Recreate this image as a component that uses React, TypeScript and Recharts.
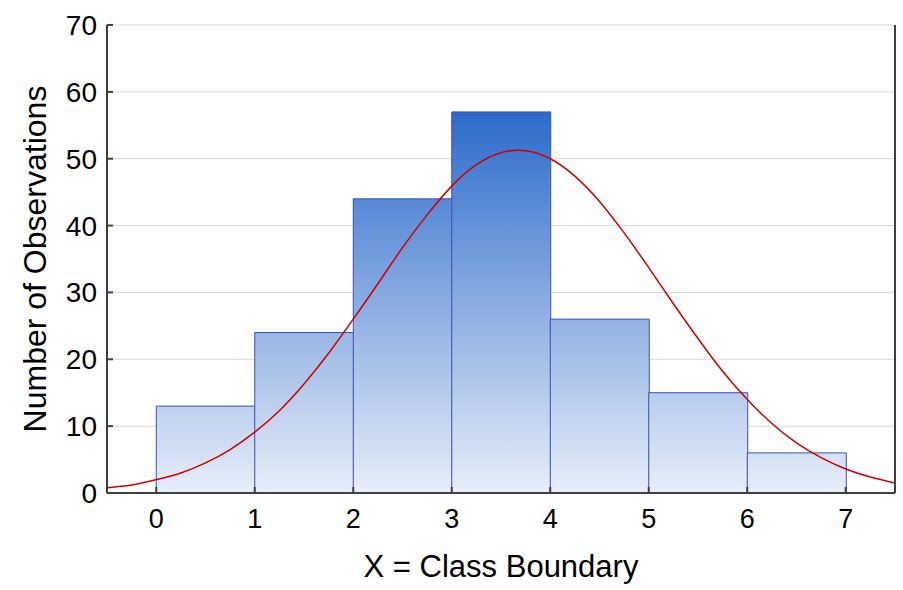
import { ComposedChart, Bar, Line, XAxis, YAxis, CartesianGrid, Label } from "recharts";

const binMids = [0.5, 1.5, 2.5, 3.5, 4.5, 5.5, 6.5];
const counts = [13, 24, 44, 57, 26, 15, 6];

const xTicks = [0, 1, 2, 3, 4, 5, 6, 7];
const yTicks = [0, 10, 20, 30, 40, 50, 60, 70];

// normal fit curve
const curveX = [
  -0.5, -0.25, 0, 0.25, 0.5, 0.75, 1, 1.25, 1.5, 1.75, 2, 2.25, 2.5, 2.75, 3, 3.25, 3.5,
  3.75, 4, 4.25, 4.5, 4.75, 5, 5.25, 5.5, 5.75, 6, 6.25, 6.5, 6.75, 7, 7.25, 7.5,
];
const curveY = [
  0.8, 1.2, 2.0, 3.0, 4.5, 6.5, 9.1, 12.3, 16.3, 20.9, 26.0, 31.3, 36.7, 41.6, 45.9, 49.1, 50.9,
  51.2, 50.0, 47.4, 43.6, 38.9, 33.7, 28.3, 23.1, 18.2, 14.0, 10.4, 7.5, 5.3, 3.6, 2.4, 1.5,
];

const bins = binMids.map((x, i) => ({ x, count: counts[i] }));
const curve = curveX.map((x, i) => ({ x, fit: curveY[i] }));

const FONT = "'Liberation Sans', Arial, sans-serif";
const AXIS = "#404040";

export default function App() {
  return (
    <div style={{ position: "absolute", left: 0, top: 0, background: "#fff" }}>
      <ComposedChart
        width={903}
        height={590}
        data={bins}
        margin={{ top: 25, right: 0, bottom: 0, left: 0 }}
        barCategoryGap={0}
        barGap={0}
      >
        <defs>
          <linearGradient id="barFill" gradientUnits="userSpaceOnUse" x1="0" y1="111" x2="0" y2="493">
            <stop offset="0%" stopColor="#2c6acb" />
            <stop offset="100%" stopColor="#e8eef9" />
          </linearGradient>
        </defs>
        <CartesianGrid vertical={false} stroke="#d9d9d9" strokeWidth={1} yAxisId="left" xAxisId="bottom" />
        <XAxis
          xAxisId="bottom"
          dataKey="x"
          type="number"
          domain={[-0.5, 7.5]}
          ticks={xTicks}
          tickCount={9}
          allowDataOverflow
          height={97}
          stroke={AXIS}
          strokeWidth={2}
          tickSize={-6}
          tickMargin={22}
          tick={{ fill: "#000", fontSize: 27, fontFamily: FONT }}
        >
          <Label
            content={({ viewBox }: any) => (
              <text
                x={viewBox.x + viewBox.width / 2}
                y={577}
                textAnchor="middle"
                fontSize={31}
                fontFamily={FONT}
                fill="#000"
              >
                X = Class Boundary
              </text>
            )}
          />
        </XAxis>
        <XAxis
          xAxisId="top"
          orientation="top"
          dataKey="x"
          type="number"
          domain={[-0.5, 7.5]}
          ticks={xTicks}
          allowDataOverflow
          height={0}
          stroke={AXIS}
          strokeWidth={2}
          tickSize={-6}
          tick={false}
        />
        <YAxis
          yAxisId="left"
          type="number"
          domain={[0, 70]}
          ticks={yTicks}
          width={107}
          stroke={AXIS}
          strokeWidth={2}
          tickSize={-6}
          tickMargin={16}
          tick={{ fill: "#000", fontSize: 28, fontFamily: FONT }}
        >
          <Label
            content={({ viewBox }: any) => (
              <text
                x={46}
                y={viewBox.y + viewBox.height / 2}
                transform={`rotate(-90, 46, ${viewBox.y + viewBox.height / 2})`}
                textAnchor="middle"
                fontSize={32}
                fontFamily={FONT}
                fill="#000"
              >
                Number of Observations
              </text>
            )}
          />
        </YAxis>
        <YAxis
          yAxisId="right"
          orientation="right"
          type="number"
          domain={[0, 70]}
          ticks={yTicks}
          width={8}
          stroke={AXIS}
          strokeWidth={2}
          tickSize={-6}
          tick={false}
        />
        <Bar
          xAxisId="bottom"
          yAxisId="left"
          dataKey="count"
          fill="url(#barFill)"
          stroke="#3a50b4"
          strokeWidth={1}
          isAnimationActive={false}
        />
        <Line
          xAxisId="top"
          yAxisId="left"
          data={curve}
          dataKey="fit"
          type="natural"
          stroke="#cc0000"
          strokeWidth={1.5}
          dot={false}
          activeDot={false}
          isAnimationActive={false}
        />
      </ComposedChart>
    </div>
  );
}
